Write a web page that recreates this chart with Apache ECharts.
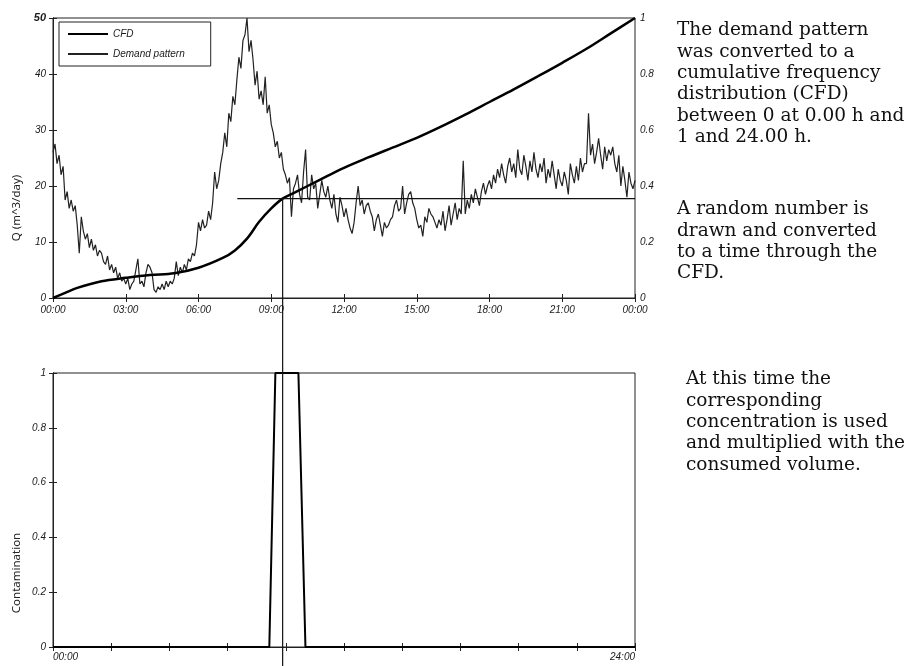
<!DOCTYPE html>
<html>
<head>
<meta charset="utf-8">
<script src="https://cdn.jsdelivr.net/npm/echarts@6/dist/echarts.min.js"></script>
<style>
  html, body { margin: 0; padding: 0; background: #fff; }
  #chart { width: 909px; height: 666px; }
</style>
</head>
<body>
<div id="chart"></div>
<script>
// Demand pattern Q (m^3/day), one row per hour, sampled every 5 minutes
const demandRows = [
  [26, 27.5, 24, 25.5, 22, 23.5, 17.5, 19, 16, 17.5, 15.5, 16.5],
  [13, 8, 14.5, 12, 10.5, 11.5, 9, 10.5, 8.5, 9.5, 7.5, 8.5],
  [8, 6.5, 6, 7.5, 5, 6, 4.5, 5.5, 3.5, 4.5, 3, 3.5],
  [2.5, 3.5, 1.5, 2.5, 3, 5, 7, 2.5, 3, 2, 4.5, 6],
  [5.5, 4.5, 1.5, 1, 2, 1.5, 2.5, 1.5, 3, 2, 3, 2.5],
  [3.5, 6.5, 4, 5.5, 4.5, 6, 5, 7, 6.5, 8, 7.5, 9.5],
  [13.5, 12, 14, 12.5, 13, 15.5, 14, 17, 22.5, 19.5, 21, 24],
  [26, 29.5, 27, 33, 31.5, 36, 34.5, 39, 43, 41, 46, 47],
  [50, 44, 46, 42.5, 38, 40.5, 35.5, 37, 34.5, 39.5, 33, 34.5],
  [31, 29.5, 27, 28, 25, 26, 23, 22, 20.5, 21.5, 14.5, 19.5],
  [20.5, 22, 18.5, 17, 22.5, 26.5, 18, 17.5, 22, 19.5, 20.5, 16],
  [18.5, 21, 19, 18, 20, 17.5, 16, 18.5, 15, 13.5, 18, 16.5],
  [14.5, 16, 14, 12.5, 11.5, 13.5, 17, 20, 16.5, 17.5, 15, 16.5],
  [17, 15.5, 14.5, 12, 14, 15, 13, 11, 13.5, 12.5, 13, 14],
  [14.5, 16.5, 17.5, 15.5, 16, 20, 15, 17, 18.5, 19, 17, 16],
  [14, 12.5, 13, 11, 14.5, 13.5, 16, 15, 14.5, 13.5, 12.5, 14],
  [13, 15.5, 12, 14, 16.5, 13, 15, 17, 14, 16, 15, 24.5],
  [15, 17.5, 16, 18.5, 17, 19.5, 18, 16.5, 19, 20.5, 18.5, 20],
  [21, 19.5, 22, 20.5, 23, 21.5, 24, 22, 20.5, 23.5, 25, 22.5],
  [24, 21.5, 26.5, 23, 22, 25.5, 23.5, 21, 24.5, 22.5, 26, 23],
  [21.5, 24, 22.5, 25, 20.5, 23, 21.5, 24.5, 22, 19.5, 23, 21],
  [20, 22.5, 21, 18.5, 24, 22, 20.5, 23.5, 21, 25, 22.5, 24],
  [24, 33, 25.5, 27.5, 24, 26, 28.5, 25.5, 23, 27, 24.5, 26.5],
  [25.5, 27, 24, 22.5, 25.5, 20, 23.5, 21, 18, 22.5, 20.5, 19.5]
];
const demandAtMidnight = 21;
const samplesPerHour = 12;

// Cumulative frequency distribution of the demand (0 at 00:00, 1 at 24:00)
const cfdHours  = [0, 0.5, 1, 2, 3, 4, 5, 6, 7, 7.5, 8, 8.5, 9, 9.47, 10, 11, 12, 13, 14, 15, 16, 17, 18, 19, 20, 21, 22, 23, 24];
const cfdValues = [0, 0.018, 0.036, 0.06, 0.072, 0.082, 0.088, 0.108, 0.143, 0.17, 0.212, 0.272, 0.32, 0.355, 0.378, 0.422, 0.465, 0.502, 0.537, 0.572, 0.612, 0.655, 0.7, 0.745, 0.792, 0.84, 0.89, 0.945, 1];

// Random number drawn and the time it maps to through the CFD
const randomDraw = 0.355;
const randomLineStart = 7.6;
const drawnTime = 9.47;

// Contamination at the tap over the day
const contaminationHours  = [0, 8.92, 9.17, 10.12, 10.41, 24];
const contaminationValues = [0, 0, 1, 1, 0, 0];

// Tick labels
const topTimeLabels = ['00:00', '03:00', '06:00', '09:00', '12:00', '15:00', '18:00', '21:00', '00:00'];
const bottomTimeLabels = ['00:00', '24:00'];

const paragraphs = [
  'The demand pattern\nwas converted to a\ncumulative frequency\ndistribution (CFD)\nbetween 0 at 0.00 h and\n1 and 24.00 h.',
  'A random number is\ndrawn and converted\nto a time through the\nCFD.',
  'At this time the\ncorresponding\nconcentration is used\nand multiplied with the\nconsumed volume.'
];

const demand = [];
demandRows.forEach((row, h) => row.forEach((q, k) => demand.push([h + k / samplesPerHour, q])));
demand.push([24, demandAtMidnight]);
const cfd = cfdHours.map((h, i) => [h, cfdValues[i]]);
const contamination = contaminationHours.map((h, i) => [h, contaminationValues[i]]);

const ink = '#1a1a1a';
const tickFont = { fontFamily: 'Liberation Sans', fontStyle: 'italic', fontSize: 10, color: ink };
const frameLine = { show: true, lineStyle: { color: '#222', width: 1 } };
const innerTick = { show: true, inside: true, length: 4, lineStyle: { color: '#222' } };
const hiddenMarker = { color: 'rgba(0,0,0,0)', borderWidth: 0, opacity: 0 };
const paragraphFont = '18.5px "DejaVu Serif"';

const chart = echarts.init(document.getElementById('chart'), null, { renderer: 'canvas' });
chart.setOption({
  animation: false,
  backgroundColor: '#fff',
  legend: {
    data: [
      { name: 'CFD', itemStyle: hiddenMarker },
      { name: 'Demand pattern', itemStyle: hiddenMarker }
    ],
    orient: 'vertical',
    left: 59, top: 22,
    padding: [7, 26, 7, 8],
    itemGap: 10,
    itemWidth: 40, itemHeight: 8,
    borderColor: '#222', borderWidth: 1,
    textStyle: { fontFamily: 'Liberation Sans', fontStyle: 'italic', fontSize: 10, color: ink }
  },
  grid: [
    { left: 53, right: 274, top: 18, height: 280, show: true, borderColor: '#222', borderWidth: 1 },
    { left: 53, right: 274, top: 373, height: 274, show: true, borderColor: '#222', borderWidth: 1 },
    { left: 53, right: 274, top: 198, bottom: 0 }
  ],
  xAxis: [
    { gridIndex: 0, type: 'value', min: 0, max: 24, interval: 3, axisLine: frameLine, axisTick: innerTick,
      splitLine: { show: false },
      axisLabel: Object.assign({ margin: 7, formatter: v => topTimeLabels[Math.round(v / 3)] }, tickFont) },
    { gridIndex: 0, type: 'value', position: 'top', min: 0, max: 24, interval: 3, axisLine: frameLine,
      axisTick: innerTick, axisLabel: { show: false }, splitLine: { show: false } },
    { gridIndex: 1, type: 'value', min: 0, max: 24, interval: 2.4, axisLine: frameLine, axisTick: innerTick,
      splitLine: { show: false },
      axisLabel: Object.assign({ margin: 5, showMinLabel: true, showMaxLabel: true,
        alignMinLabel: 'left', alignMaxLabel: 'right',
        formatter: v => (v === 0 ? bottomTimeLabels[0] : (v === 24 ? bottomTimeLabels[1] : '')) }, tickFont) },
    { gridIndex: 1, type: 'value', position: 'top', min: 0, max: 24, interval: 2.4, axisLine: frameLine,
      axisTick: innerTick, axisLabel: { show: false }, splitLine: { show: false } },
    { gridIndex: 2, type: 'value', min: 0, max: 24, show: false }
  ],
  yAxis: [
    { gridIndex: 0, type: 'value', min: 0, max: 50, interval: 10, position: 'left', axisLine: frameLine,
      axisTick: innerTick, splitLine: { show: false },
      axisLabel: Object.assign({ margin: 7, formatter: v => (v === 50 ? '{top|50}' : String(v)),
        rich: { top: { fontFamily: 'Liberation Sans', fontWeight: 'bold', fontSize: 11, color: ink } } }, tickFont) },
    { gridIndex: 0, type: 'value', min: 0, max: 1, interval: 0.2, position: 'right', axisLine: frameLine,
      axisTick: innerTick, splitLine: { show: false },
      axisLabel: Object.assign({ margin: 5 }, tickFont) },
    { gridIndex: 1, type: 'value', min: 0, max: 1, interval: 0.2, position: 'left', axisLine: frameLine,
      axisTick: innerTick, splitLine: { show: false },
      axisLabel: Object.assign({ margin: 7 }, tickFont) },
    { gridIndex: 1, type: 'value', min: 0, max: 1, interval: 0.2, position: 'right', axisLine: frameLine,
      axisTick: innerTick, splitLine: { show: false }, axisLabel: { show: false } },
    { gridIndex: 2, type: 'value', min: 0, max: 1, show: false }
  ],
  series: [
    { name: 'Demand pattern', type: 'line', xAxisIndex: 0, yAxisIndex: 0, data: demand,
      symbol: 'none', lineStyle: { width: 1.2, color: '#222' }, itemStyle: { color: '#222' } },
    { name: 'CFD', type: 'line', xAxisIndex: 0, yAxisIndex: 1, data: cfd, smooth: 0.35,
      symbol: 'none', lineStyle: { width: 2.5, color: '#000' }, itemStyle: { color: '#000' } },
    { name: 'random draw', type: 'line', xAxisIndex: 0, yAxisIndex: 1,
      data: [[randomLineStart, randomDraw], [24, randomDraw]],
      symbol: 'none', lineStyle: { width: 1.2, color: '#111' } },
    { name: 'contamination', type: 'line', xAxisIndex: 2, yAxisIndex: 2, data: contamination,
      symbol: 'none', lineStyle: { width: 2, color: '#000' } },
    { name: 'drawn time', type: 'line', xAxisIndex: 4, yAxisIndex: 4,
      data: [[drawnTime, 0], [drawnTime, 1]],
      symbol: 'none', lineStyle: { width: 1.2, color: '#111' } }
  ],
  graphic: [
    { type: 'text', x: 17, y: 208, rotation: Math.PI / 2,
      style: { text: 'Q (m^3/day)', font: '11.5px "Noto Sans"', fill: '#222', align: 'center', verticalAlign: 'middle' } },
    { type: 'text', x: 17, y: 573, rotation: Math.PI / 2,
      style: { text: 'Contamination', font: '11.5px "Noto Sans"', fill: '#222', align: 'center', verticalAlign: 'middle' } },
    { type: 'text', left: 677, top: 20,
      style: { text: paragraphs[0], font: paragraphFont, lineHeight: 21.3, fill: '#111' } },
    { type: 'text', left: 677, top: 199,
      style: { text: paragraphs[1], font: paragraphFont, lineHeight: 21.3, fill: '#111' } },
    { type: 'text', left: 686, top: 369,
      style: { text: paragraphs[2], font: paragraphFont, lineHeight: 21.3, fill: '#111' } }
  ]
});
</script>
</body>
</html>
